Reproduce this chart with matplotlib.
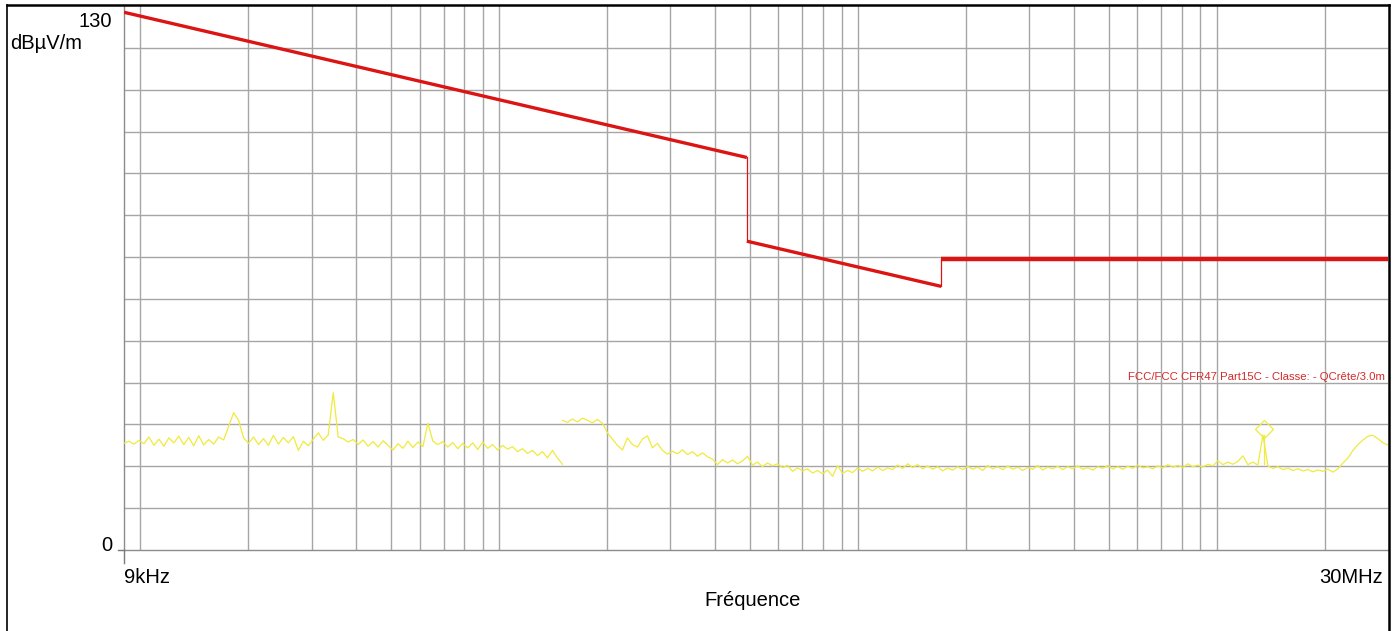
import numpy as np
import matplotlib
matplotlib.use("Agg")
import matplotlib.pyplot as plt
from matplotlib.lines import Line2D
from matplotlib.ticker import NullLocator

plt.rcParams['font.family'] = ['Liberation Sans', 'DejaVu Sans']

# ---------------- data ----------------
# FCC Part 15C limit (3 m), frequency in kHz, level in dBuV/m
limit_seg_freq = [[9, 490], [490, 1705], [1705, 30000]]
limit_seg_level = [[128.5, 93.8], [73.8, 63.0], [69.5, 69.5]]

# Measured trace, band 1 (9 kHz - 150 kHz), log-spaced sweep points
band1_start, band1_stop = 9, 150
band1_levels = [
    25.5, 26.0, 25.3, 26.2, 25.4, 27.0, 25.0, 26.5, 24.8, 26.8,
    25.6, 27.2, 25.2, 26.9, 24.9, 27.3, 25.1, 26.4, 25.3, 27.0,
    26.3, 29.5, 32.8, 31.0, 26.8, 25.5, 27.0, 25.2, 26.6, 25.0,
    27.4, 25.3, 26.9, 25.6, 27.1, 23.8, 26.0, 24.9, 26.5, 28.0,
    26.2, 27.5, 37.6, 27.0, 26.6, 25.8, 26.4, 25.2, 26.3, 24.8,
    25.9, 24.6, 26.1, 25.0, 23.9, 25.4, 24.3, 26.0, 24.5, 25.8,
    24.7, 30.3, 26.0, 25.2, 25.9, 24.6, 25.7, 24.2, 25.5, 24.4,
    25.6, 24.0, 25.8, 24.3, 25.2, 23.9, 25.0, 24.1, 24.7, 23.5,
    24.2, 23.1, 23.8, 22.6, 23.5, 22.0, 23.8, 22.0, 20.5,
]

# Measured trace, band 2 (150 kHz - 30 MHz)
band2_start, band2_stop = 150, 30000
band2_levels = [
    31.0, 30.5, 31.3, 30.6, 31.5, 31.0, 30.4, 31.2, 30.3, 28.0,
    26.5, 25.0, 23.9, 26.8, 25.2, 24.6, 26.5, 27.3, 24.4, 25.5,
    23.8, 22.9, 23.6, 23.0, 23.9, 22.8, 23.5, 22.4, 23.2, 22.3,
    21.7, 20.4, 21.6, 20.8, 21.5, 20.6, 21.3, 22.4, 20.3, 21.0,
    19.9, 20.8, 20.1, 20.6, 19.7, 20.2, 18.8, 19.6, 18.9, 19.4,
    18.4, 19.0, 18.2, 19.1, 17.6, 20.2, 18.3, 19.0, 18.5, 19.6,
    18.8, 19.5, 18.9, 19.8, 19.0, 19.6, 19.2, 20.3, 19.5, 20.6,
    19.7, 20.4, 19.4, 20.1, 19.3, 19.9, 18.9, 19.6, 19.1, 19.9,
    19.2, 20.0, 19.3, 19.8, 19.0, 20.2, 19.4, 19.9, 19.2, 20.1,
    19.3, 19.8, 19.0, 19.7, 19.3, 20.2, 19.1, 19.8, 19.4, 20.0,
    19.2, 19.9, 19.4, 20.1, 19.3, 19.7, 19.1, 19.9, 19.5, 20.2,
    19.4, 19.9, 19.3, 20.0, 19.5, 20.3, 19.6, 19.9, 19.4, 20.1,
    19.6, 20.4, 19.8, 20.2, 19.7, 20.6, 19.9, 20.3, 19.8, 20.5,
    20.1, 21.3, 20.4, 21.0, 20.5, 21.2, 22.5, 20.4, 21.0, 20.3,
    27.5, 20.1, 19.5, 19.9, 19.2, 19.6, 19.0, 19.4, 18.9, 19.2,
    18.7, 19.1, 18.8, 19.3, 18.6, 19.4, 20.8, 22.0, 23.8, 25.2,
    26.3, 27.2, 27.4, 26.6, 25.6, 25.1,
]

marker_freq = 13560
marker_level = 29.0

grid_freq = ([10, 20, 30, 40, 50, 60, 70, 80, 90,
              100, 200, 300, 400, 500, 600, 700, 800, 900,
              1000, 2000, 3000, 4000, 5000, 6000, 7000, 8000, 9000,
              10000, 20000])
grid_level = [10, 20, 30, 40, 50, 60, 70, 80, 90, 100, 110, 120]

x_min, x_max = 9, 30000
y_min, y_max = 0, 130

limit_label = "FCC/FCC CFR47 Part15C - Classe: - QCrête/3.0m"

# ---------------- figure ----------------
W, H = 1399, 631
fig = plt.figure(figsize=(W / 100, H / 100), dpi=100)
fig.patch.set_facecolor('white')

ax_l, ax_r, ax_t, ax_b = 124, 1388, 6, 550
ax = fig.add_axes([ax_l / W, 1 - ax_b / H, (ax_r - ax_l) / W, (ax_b - ax_t) / H])
ax.set_xscale('log')
ax.set_xlim(x_min, x_max)
ax.set_ylim(y_min, y_max)
ax.set_xticks([])
ax.set_yticks([])
ax.xaxis.set_minor_locator(NullLocator())
ax.yaxis.set_minor_locator(NullLocator())

grid_color = '#a6a6a6'
for f in grid_freq:
    ax.axvline(f, color=grid_color, lw=1.0, zorder=1)
for v in grid_level:
    ax.axhline(v, color=grid_color, lw=1.0, zorder=1)

for s in ['top', 'right']:
    ax.spines[s].set_visible(False)
for s in ['left', 'bottom']:
    ax.spines[s].set_color('#8c8c8c')
    ax.spines[s].set_linewidth(1.0)

# trace
trace_color = '#f0ea3c'
f1 = np.geomspace(band1_start, band1_stop, len(band1_levels))
f2 = np.geomspace(band2_start, band2_stop, len(band2_levels))
ax.plot(f1, band1_levels, color=trace_color, lw=0.9, zorder=3)
ax.plot(f2, band2_levels, color=trace_color, lw=0.9, zorder=3)
ax.plot([marker_freq, marker_freq], [band2_levels[140] - 7, marker_level - 1.5],
        color=trace_color, lw=0.9, zorder=3)
ax.plot([marker_freq], [marker_level], marker='D', ms=9, mfc='none',
        mec=trace_color, mew=0.9, zorder=4)

# limit line
red = '#dc1414'
seg_lw = [2.4, 2.4, 3.2]
for fr, lv, lw in zip(limit_seg_freq, limit_seg_level, seg_lw):
    ax.plot(fr, lv, color=red, lw=lw, solid_capstyle='butt', zorder=5)
for i in range(len(limit_seg_freq) - 1):
    ax.plot([limit_seg_freq[i][1], limit_seg_freq[i + 1][0]],
            [limit_seg_level[i][1], limit_seg_level[i + 1][0]],
            color=red, lw=0.9, zorder=5)

ax.text((1128 - ax_l) / (ax_r - ax_l), (ax_b - 377) / (ax_b - ax_t), limit_label,
        transform=ax.transAxes, color='#d42a2a', fontsize=8.2,
        ha='left', va='center', clip_on=True, zorder=6)

# figure frame
def fx(px):
    return px / W

def fy(py):
    return 1 - py / H

fig.add_artist(Line2D([fx(7), fx(7)], [0, fy(5)], color='black', lw=1.2))
fig.add_artist(Line2D([fx(7), fx(1389)], [fy(5), fy(5)], color='black', lw=1.8))
fig.add_artist(Line2D([fx(1389), fx(1389)], [0, fy(5)], color='black', lw=1.8))

# small ticks at origin
fig.add_artist(Line2D([fx(124), fx(124)], [fy(550), fy(563)], color='#7a7a7a', lw=1.0))
fig.add_artist(Line2D([fx(118), fx(124)], [fy(550), fy(550)], color='#7a7a7a', lw=1.0))

# texts
tfs = 14.5
fig.text(fx(112), fy(27), "130", fontsize=tfs, ha='right', va='baseline')
fig.text(fx(10), fy(49), "dBµV/m", fontsize=tfs, ha='left', va='baseline')
fig.text(fx(112), fy(551), "0", fontsize=tfs, ha='right', va='baseline')
fig.text(fx(124), fy(583), "9kHz", fontsize=tfs, ha='left', va='baseline')
fig.text(fx(1383), fy(583), "30MHz", fontsize=tfs, ha='right', va='baseline')
fig.text(fx(753), fy(606), "Fréquence", fontsize=tfs, ha='center', va='baseline')

fig.savefig("out.png", dpi=100, facecolor='white')
